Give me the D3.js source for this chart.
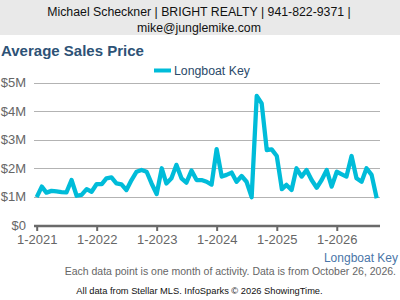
<!DOCTYPE html>
<html>
<head>
<meta charset="utf-8">
<script src="https://cdn.jsdelivr.net/npm/d3@7"></script>
<style>
  body { margin: 0; background: #fff; font-family: "Liberation Sans", Arial, sans-serif; }
  svg { display: block; }
</style>
</head>
<body>
<div id="viz"></div>
<script>
// monthly average sales price, Jan 2021 .. Sep 2026 (in $M)
const startMonth = new Date(2021, 0, 1);
const prices = [
  0.99, 1.36, 1.15, 1.21, 1.19, 1.17, 1.16, 1.59, 1.04, 1.07, 1.27, 1.18,
  1.45, 1.45, 1.65, 1.68, 1.47, 1.44, 1.24, 1.59, 1.88, 1.94, 1.88, 1.47,
  1.10, 2.00, 1.47, 1.65, 2.12, 1.65, 1.50, 1.92, 1.59, 1.59, 1.53, 1.43,
  2.67, 1.71, 1.77, 1.85, 1.53, 1.73, 1.53, 0.99, 4.53, 4.27, 2.64, 2.66,
  2.43, 1.27, 1.42, 1.24, 2.00, 1.71, 1.94, 1.59, 1.32, 1.59, 1.94, 1.36,
  1.88, 1.79, 1.71, 2.43, 1.65, 1.53, 2.00, 1.77, 0.95
];
const yTicks = [0, 1, 2, 3, 4, 5];
const xTickYears = [2021, 2022, 2023, 2024, 2025, 2026];
const seriesName = 'Longboat Key';
const headerLines = ['Michael Scheckner | BRIGHT REALTY | 941-822-9371 |', 'mike@junglemike.com'];

const data = prices.map((v, i) => ({ date: d3.timeMonth.offset(startMonth, i), value: v }));

const W = 400, H = 300;
const lineColor = '#00bcd9';
const svg = d3.select('#viz').append('svg').attr('width', W).attr('height', H);

// header band
svg.append('rect').attr('x', 0).attr('y', 0).attr('width', W).attr('height', 35).attr('fill', '#e9e9e9');
headerLines.forEach((t, i) => {
  svg.append('text')
    .attr('x', W / 2 - 1).attr('y', 16 + i * 15.5)
    .attr('text-anchor', 'middle')
    .style('font-size', '12.3px').attr('fill', '#111')
    .text(t);
});

svg.append('text')
  .attr('x', 1).attr('y', 56)
  .style('font-size', '15px').style('font-weight', 'bold')
  .attr('fill', '#2d5276')
  .text('Average Sales Price');

// legend
svg.append('line')
  .attr('x1', 154).attr('x2', 171).attr('y1', 70.5).attr('y2', 70.5)
  .attr('stroke', lineColor).attr('stroke-width', 4);
svg.append('text')
  .attr('x', 174).attr('y', 75)
  .style('font-size', '12.3px').attr('fill', '#2b4a6a')
  .text(seriesName);

const x = d3.scaleTime()
  .domain([startMonth, d3.timeMonth.offset(startMonth, 68)])
  .range([36.7, 376.7]);
const y = d3.scaleLinear().domain([0, 5]).range([225.5, 82.5]);

// grid
svg.append('g')
  .selectAll('line')
  .data(yTicks.filter(d => d > 0))
  .join('line')
  .attr('x1', 34).attr('x2', 380)
  .attr('y1', d => Math.round(y(d)) + 0.5).attr('y2', d => Math.round(y(d)) + 0.5)
  .attr('stroke', '#b3b3b3').attr('stroke-width', 1);

// y labels
svg.append('g')
  .selectAll('text')
  .data(yTicks)
  .join('text')
  .attr('x', 26).attr('y', d => y(d) + 4.5)
  .attr('text-anchor', 'end')
  .style('font-size', '13px').attr('fill', '#666')
  .text(d => d === 0 ? '$0' : `$${d}M`);

// x axis
const xAxis = svg.append('g')
  .attr('transform', 'translate(0,226)')
  .call(d3.axisBottom(x)
    .tickValues(xTickYears.map(yr => new Date(yr, 0, 1)))
    .tickSize(5)
    .tickFormat(d3.timeFormat('1-%Y')));
xAxis.select('.domain').remove();
xAxis.selectAll('.tick line').attr('stroke', '#666').attr('stroke-width', 2);
xAxis.selectAll('.tick text')
  .attr('y', 9)
  .style('font-size', '13px').style('font-family', '"Liberation Sans", Arial, sans-serif')
  .attr('fill', '#666');
svg.append('line')
  .attr('x1', 34).attr('x2', 380).attr('y1', 226).attr('y2', 226)
  .attr('stroke', '#6a6a6a').attr('stroke-width', 2.5);

// series
svg.append('path')
  .datum(data)
  .attr('d', d3.line().x(d => x(d.date)).y(d => y(d.value)))
  .attr('fill', 'none')
  .attr('stroke', lineColor)
  .attr('stroke-width', 4.3)
  .attr('stroke-linejoin', 'round');

// footer
svg.append('text')
  .attr('x', 398).attr('y', 262)
  .attr('text-anchor', 'end')
  .style('font-size', '12px').attr('fill', '#4a76a8')
  .text(seriesName);
svg.append('text')
  .attr('x', 396).attr('y', 275)
  .attr('text-anchor', 'end')
  .style('font-size', '10.5px').attr('fill', '#666')
  .text('Each data point is one month of activity. Data is from October 26, 2026.');
svg.append('text')
  .attr('x', 199.5).attr('y', 294)
  .attr('text-anchor', 'middle')
  .style('font-size', '9.3px').attr('fill', '#111')
  .text('All data from Stellar MLS. InfoSparks © 2026 ShowingTime.');
</script>
</body>
</html>
